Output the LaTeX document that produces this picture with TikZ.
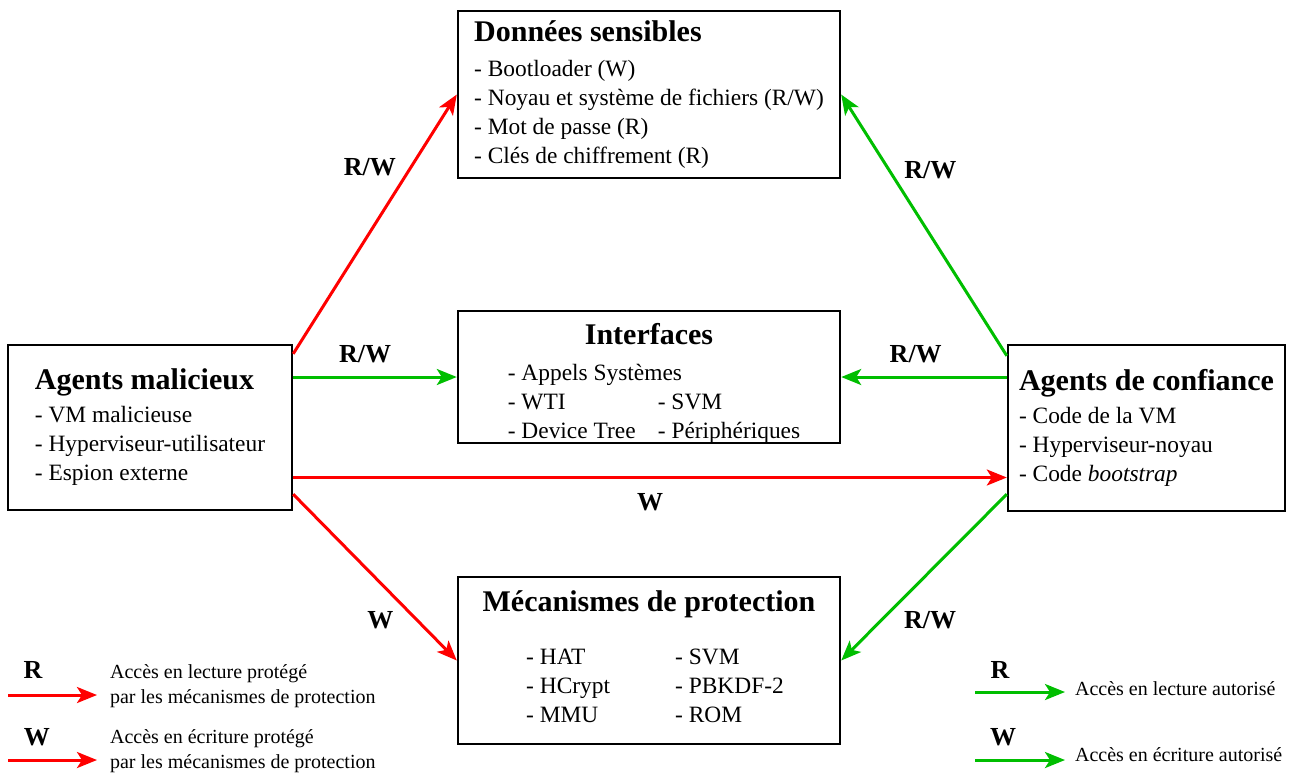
\documentclass[tikz,border=0pt]{standalone}
\usepackage{fontspec}
\setmainfont{Liberation Serif}
\usepackage{xcolor}
\usetikzlibrary{arrows.meta}

\definecolor{vertok}{RGB}{0,190,0}

\tikzset{
  boite/.style={draw, line width=1.2pt, inner sep=0pt, font=\fontsize{11.7}{14.5}\selectfont},
  fleche/.style={line width=1.5pt, -{Stealth[length=10pt,width=8pt,inset=2.5pt]}},
  rouge/.style={fleche, red},
  vert/.style={fleche, vertok},
  etiq/.style={font=\fontsize{13}{15}\selectfont\bfseries, text=black},
  legende/.style={font=\fontsize{10}{12.5}\selectfont, align=left, anchor=west},
}
\newcommand{\titre}[1]{{\fontsize{15}{17}\selectfont\bfseries #1}}

\begin{document}
\begin{tikzpicture}[x=0.5pt, y=-0.5pt]
  \useasboundingbox (0,0) rectangle (1293,773);

  % les cinq boites
  \node[boite, minimum width=191pt, minimum height=83.5pt, align=left] (donnees) at (649,94.5)
    {\titre{Données sensibles}\\[3pt]
     - Bootloader (W)\\
     - Noyau et système de fichiers (R/W)\\
     - Mot de passe (R)\\
     - Clés de chiffrement (R)};
  \node[boite, minimum width=191pt, minimum height=66pt, align=center] (interf) at (649,377)
    {\titre{Interfaces}\\[3.5pt]
     \raisebox{0pt}[\height][\dimexpr\depth-8pt]{%
     \begin{tabular}[t]{@{\hspace{5pt}}p{75pt}@{}l@{}}
       \multicolumn{2}{@{\hspace{5pt}}l}{- Appels Systèmes}\\
       - WTI & - SVM\\
       - Device Tree & - Périphériques
     \end{tabular}}};
  \node[boite, minimum width=191pt, minimum height=83.5pt, align=center] (meca) at (649,660.5)
    {\titre{Mécanismes de protection}\\[12pt]
     \begin{tabular}[t]{@{\hspace{6pt}}p{74.5pt}@{}l@{}}
       - HAT & - SVM\\
       - HCrypt & - PBKDF-2\\
       - MMU & - ROM
     \end{tabular}};
  \node[boite, minimum width=142pt, minimum height=82.5pt, align=left] (malic) at (150,427.5)
    {\titre{Agents malicieux}\\[2pt]
     - VM malicieuse\\
     - Hyperviseur-utilisateur\\
     - Espion externe};
  \node[boite, minimum width=138.5pt, minimum height=83pt, align=left] (confi) at (1146.5,428)
    {\titre{Agents de confiance}\\[2pt]
     - Code de la VM\\
     - Hyperviseur-noyau\\
     - Code \textit{bootstrap}};

  % acces des agents malicieux
  \draw[rouge] ([yshift=-5pt]malic.north east) -- (donnees.west)
    node[etiq, pos=0.72, left=3.5pt] (lrw1) {R/W};
  \draw[vert] (malic.east |- interf.west) -- (interf.west)
    node[etiq, pos=0.44, above=3pt] (lrw2) {R/W};
  \draw[rouge] ([yshift=-25pt]malic.east) coordinate (depw) -- (confi.west |- depw)
    node[etiq, midway, below=4pt] (lw1) {W};
  \draw[rouge] ([yshift=8.5pt]malic.south east) -- (meca.west)
    node[etiq, pos=0.76, left=8pt] (lw2) {W};

  % acces des agents de confiance
  \draw[vert] ([yshift=-6pt]confi.north west) -- (donnees.east)
    node[etiq, pos=0.71, right=3.5pt] (lrw3) {R/W};
  \draw[vert] (confi.west |- interf.east) -- (interf.east)
    node[etiq, pos=0.55, above=3pt] (lrw4) {R/W};
  \draw[vert] ([yshift=9pt]confi.south west) -- (meca.east)
    node[etiq, pos=0.76, right=7.5pt] (lrw5) {R/W};

  % legende
  \node[etiq] (lgR) at (33,670) {R};
  \coordinate (lgRa) at (8,695);
  \coordinate (lgRb) at (97,695);
  \draw[rouge] (lgRa) -- (lgRb);
  \node[legende] (lgRt) at (103,686.5) {Accès en lecture protégé\\par les mécanismes de protection};

  \node[etiq] (lgW) at (37,737) {W};
  \coordinate (lgWa) at (8,760);
  \coordinate (lgWb) at (97,760);
  \draw[rouge] (lgWa) -- (lgWb);
  \node[legende] (lgWt) at (103,751) {Accès en écriture protégé\\par les mécanismes de protection};

  \node[etiq] (lgR2) at (1000,670) {R};
  \coordinate (lgR2a) at (975,692);
  \coordinate (lgR2b) at (1065,692);
  \draw[vert] (lgR2a) -- (lgR2b);
  \node[legende] (lgR2t) at (1068,689) {Accès en lecture autorisé};

  \node[etiq] (lgW2) at (1003,737) {W};
  \coordinate (lgW2a) at (975,760);
  \coordinate (lgW2b) at (1065,760);
  \draw[vert] (lgW2a) -- (lgW2b);
  \node[legende] (lgW2t) at (1068,755) {Accès en écriture autorisé};
\end{tikzpicture}
\end{document}
